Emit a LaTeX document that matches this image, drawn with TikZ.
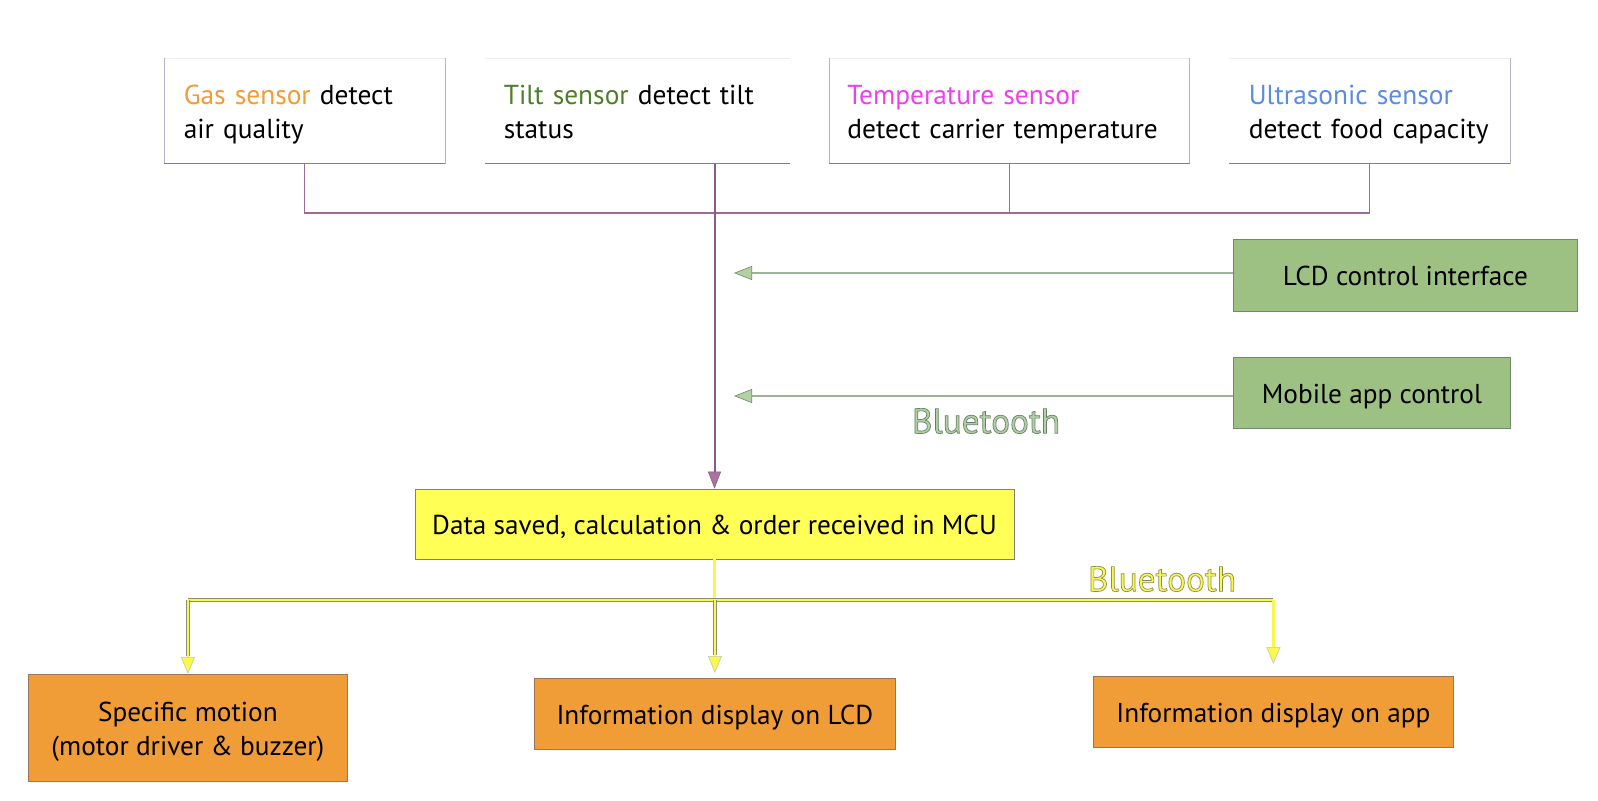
\documentclass[tikz,border=0pt]{standalone}
\usepackage{fontspec}
\setmainfont{PT Sans}
\usetikzlibrary{arrows.meta}
\definecolor{gasc}{HTML}{F39B35}
\definecolor{tiltc}{HTML}{4F7D2C}
\definecolor{tempc}{HTML}{F03DF0}
\definecolor{ultc}{HTML}{5A8BE5}
\definecolor{busc}{HTML}{9E6B94}
\definecolor{busd}{HTML}{8A5A82}
\definecolor{tipm}{HTML}{A8749C}
\definecolor{mcuf}{HTML}{FFFF55}
\definecolor{grf}{HTML}{9DC183}
\definecolor{grd}{HTML}{6E8A66}
\definecolor{grl}{HTML}{9CB494}
\definecolor{grt}{HTML}{B2D0A2}
\definecolor{orf}{HTML}{F09D38}
\definecolor{ord}{HTML}{9A7458}
\definecolor{sbl}{HTML}{7C7CA8}
\definecolor{sbf}{HTML}{B4B4CC}
\definecolor{sbt}{HTML}{EEEEF2}
\definecolor{yel}{HTML}{F8F84E}
\definecolor{yed}{HTML}{8C8C78}
\definecolor{yet}{HTML}{C8C8A8}
\newcommand\lowtxt[2][l]{\raisebox{-1.8pt}[\height][\depth]{\begin{tabular}{@{}#1@{}}#2\end{tabular}}}
\newcommand\senstxt[1]{\raisebox{-1.8pt}[\height][\depth]{\begin{tabular}{@{}l@{}}#1\end{tabular}}}
\begin{document}
\begin{tikzpicture}[x=0.5pt,y=-0.5pt,
  every node/.style={font=\fontsize{13.65pt}{17.3pt}\selectfont},
  sensor/.style={anchor=north west, align=left, inner ysep=0pt, minimum height=52.5pt, font=\fontsize{13.7pt}{16.8pt}\selectfont},
  sbot/.style={draw=sbl, line width=0.5pt},
  sside/.style={draw=sbf, line width=0.4pt},
  stop/.style={draw=sbt, line width=0.4pt},
  bus/.style={draw=busc, line width=0.8pt},
  greenbox/.style={anchor=north west, fill=grf, draw=grd, line width=0.4pt, inner sep=0pt},
  orbox/.style={anchor=north west, fill=orf, draw=ord, line width=0.4pt, inner sep=0pt, align=center},
  garrow/.style={draw=grl, line width=1pt, -{Triangle[length=9pt,width=7pt,fill=grt,color=grd,line width=0.3pt]}},
  yshaft/.style={draw=yed, line width=0.25pt, double=yel, double distance=1.1pt},
  ytip/.style={draw=yel, line width=1.2pt, -{Triangle[length=8.5pt,width=7pt,fill=yel,color=yet,line width=0.3pt]}},
  btlabel/.style={font=\fontsize{17.6pt}{19pt}\selectfont}
]
\useasboundingbox (0,0) rectangle (1598,801);

% sensor boxes
\node[sensor, inner xsep=9.7pt, text width=120.8pt] (gas) at (164,58)
  {\senstxt{\textcolor{gasc}{Gas sensor} detect\\air quality}};
\node[sensor, inner xsep=9.2pt, text width=133.6pt] (tilt) at (485,58)
  {\senstxt{\textcolor{tiltc}{Tilt sensor} detect tilt\\status}};
\node[sensor, inner xsep=9pt, text width=162pt] (temp) at (829,58)
  {\senstxt{\textcolor{tempc}{Temperature sensor}\\detect carrier temperature}};
\node[sensor, inner xsep=9.7pt, text width=120.8pt] (ultra) at (1229,58)
  {\senstxt{\textcolor{ultc}{Ultrasonic sensor}\\detect food capacity}};

% sensor borders
\draw[stop] (gas.north west) -- (gas.north east);
\draw[sside] (gas.north west) -- (gas.south west) (gas.north east) -- (gas.south east);
\draw[sbot] (gas.south west) -- (gas.south east);
\draw[stop] (tilt.north west) -- (tilt.north east);
\draw[sbot] (tilt.south west) -- (tilt.south east);
\draw[stop] (temp.north west) -- (temp.north east);
\draw[sside] (temp.north west) -- (temp.south west) (temp.north east) -- (temp.south east);
\draw[sbot] (temp.south west) -- (temp.south east);
\draw[stop] (ultra.north west) -- (ultra.north east);
\draw[sside] (ultra.north east) -- (ultra.south east);
\draw[sbot] (ultra.south west) -- (ultra.south east);

% MCU
\node[fill=mcuf, draw=gray, line width=0.4pt, minimum width=299.5pt, minimum height=35pt, inner sep=0pt] (mcu) at (714.5,524)
  {\lowtxt{Data saved, calculation \& order received in MCU}};

% sensor bus
\coordinate (busy) at (0,213);
\draw[bus] (gas.south) -- (gas.south |- busy) -| (ultra.south);
\draw[bus] (temp.south) -- (temp.south |- busy);
\draw[draw=busd, line width=1pt, -{Triangle[length=8.5pt,width=6.5pt,fill=tipm,color=busd,line width=0.3pt]}]
  (tilt.south -| mcu.north) -- (mcu.north);

% control inputs
\node[greenbox, minimum width=172pt, minimum height=36pt] (lcdc) at (1233,239) {\lowtxt{LCD control interface}};
\node[greenbox, minimum width=138.5pt, minimum height=35.5pt] (mob) at (1233,357) {\lowtxt{Mobile app control}};
\coordinate (lcdin) at (734,273);
\coordinate (mobin) at (734,396);
\draw[garrow] (lcdc.west |- lcdin) -- (lcdin);
\draw[garrow] (mob.west |- mobin) -- (mobin);
\node[btlabel, text=grt] (bt1) at (986,421) {\special{pdf:literal direct 2 Tr 0.35 w 0.40 0.50 0.42 RG}Bluetooth\special{pdf:literal direct 0 Tr}};

% outputs
\node[orbox, minimum width=159.5pt, minimum height=53.5pt] (motion) at (28,674)
  {\lowtxt[c]{Specific motion\\(motor driver \& buzzer)}};
\node[orbox, minimum width=180.5pt, minimum height=35.5pt] (lcdd) at (534,678) {\lowtxt{Information display on LCD}};
\node[orbox, minimum width=180pt, minimum height=35.5pt] (appd) at (1093,676) {\lowtxt{Information display on app}};

\coordinate (oby) at (0,600);
\draw[yshaft] (mcu.south) -- (mcu.south |- oby);
\draw[yshaft] (motion.north |- oby) -- (appd.north |- oby);
\draw[yshaft] (motion.north |- oby) -- ([yshift=9pt]motion.north);
\draw[yshaft] (lcdd.north |- oby) -- ([yshift=11.5pt]lcdd.north);
\draw[yshaft] (appd.north |- oby) -- ([yshift=15pt]appd.north);
\draw[ytip] ([yshift=10pt]motion.north) -- (motion.north);
\draw[ytip] ([yshift=12.5pt]lcdd.north) -- ([yshift=2.5pt]lcdd.north);
\draw[ytip] ([yshift=16pt]appd.north) -- ([yshift=6pt]appd.north);
\node[btlabel, text=yel] (bt2) at (1162,579) {\special{pdf:literal direct 2 Tr 0.35 w 0.55 0.55 0.35 RG}Bluetooth\special{pdf:literal direct 0 Tr}};
\end{tikzpicture}
\end{document}
